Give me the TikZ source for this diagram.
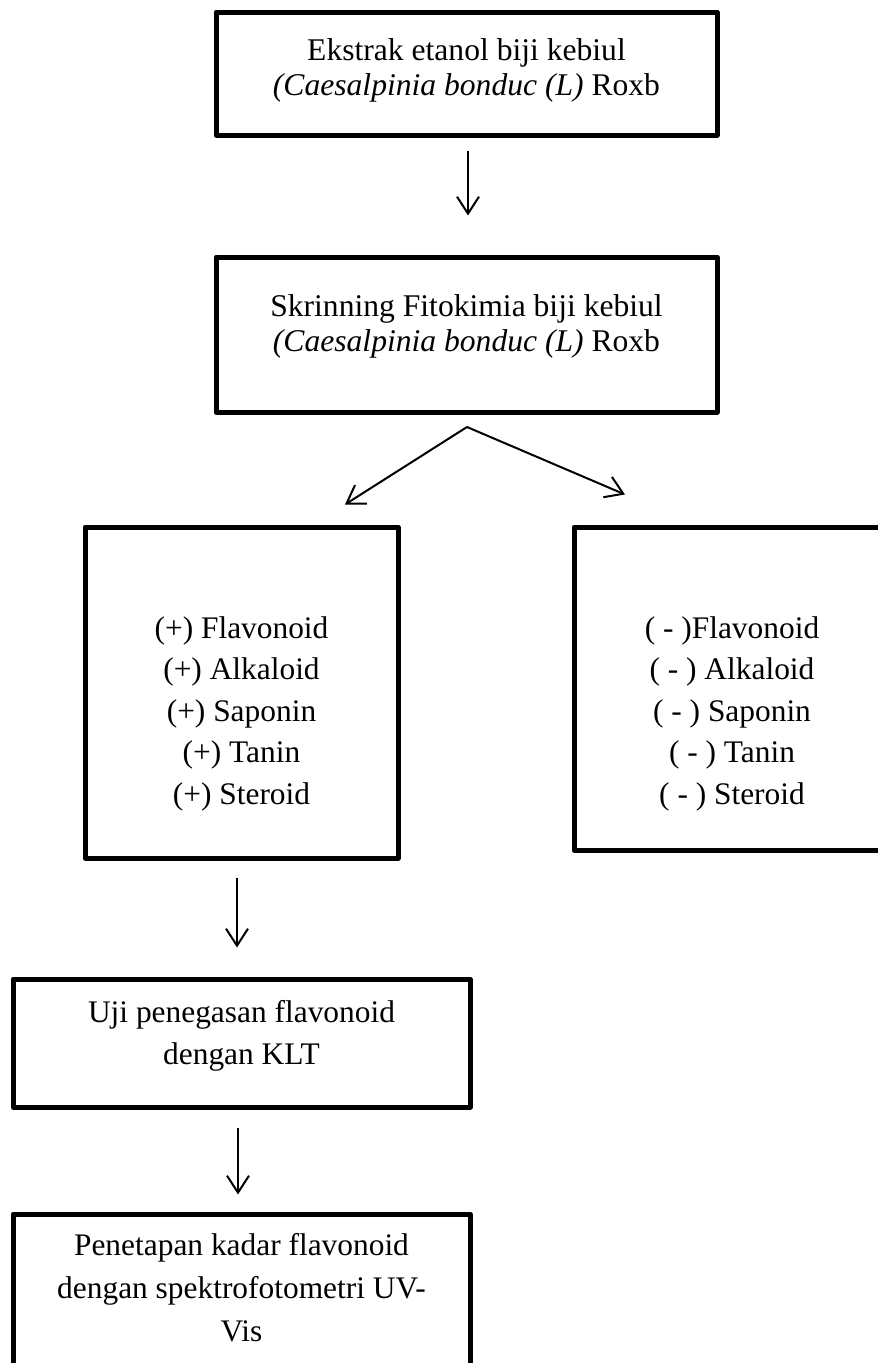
\documentclass[tikz,border=0pt]{standalone}
\usepackage{fontspec}
\setmainfont{Liberation Serif}
\usetikzlibrary{arrows.meta}
\begin{document}
\begin{tikzpicture}[x=1pt,y=-1pt,
  box/.style={draw,line width=5pt,line join=round,inner sep=0pt,anchor=center},
  txt/.style={inner sep=0pt,anchor=base},
  arr/.style={line width=2pt,-{Straight Barb[length=17pt,width=22pt,line width=2pt]}}]
\useasboundingbox (0,0) rectangle (878,1363);
\clip (0,0) rectangle (878,1363);
% boxes
\node[box,minimum width=501pt,minimum height=123pt] (b1) at (466.5,73.5) {};
\node[box,minimum width=501pt,minimum height=155pt] (b2) at (466.5,334.5) {};
\node[box,minimum width=313pt,minimum height=331pt] (b3) at (241.5,692.5) {};
\node[box,minimum width=316pt,minimum height=323pt] (b4) at (732,688.5) {};
\node[box,minimum width=457pt,minimum height=128pt] (b5) at (241.5,1043) {};
\node[box,minimum width=457pt,minimum height=190pt] (b6) at (241.5,1309) {};
% texts
\node[txt] (t1) at (466.5,60) {\fontsize{31.6}{35}\selectfont\begin{tabular}[t]{@{}c@{}}Ekstrak etanol biji kebiul\\ \textit{(Caesalpinia bonduc (L)} Roxb\end{tabular}};
\node[txt] (t2) at (466.5,316) {\fontsize{31.6}{35}\selectfont\begin{tabular}[t]{@{}c@{}}Skrinning Fitokimia biji kebiul\\ \textit{(Caesalpinia bonduc (L)} Roxb\end{tabular}};
\node[txt] (t3) at (241.5,638) {\fontsize{31.4}{41.5}\selectfont\begin{tabular}[t]{@{}c@{}}(+) Flavonoid\\ (+) Alkaloid\\ (+) Saponin\\ (+) Tanin\\ (+) Steroid\end{tabular}};
\node[txt] (t4) at (732,638) {\fontsize{31.4}{41.5}\selectfont\begin{tabular}[t]{@{}c@{}}( - )Flavonoid\\ ( - ) Alkaloid\\ ( - ) Saponin\\ ( - ) Tanin\\ ( - ) Steroid\end{tabular}};
\node[txt] (t5) at (241.5,1022) {\fontsize{31.4}{42}\selectfont\begin{tabular}[t]{@{}c@{}}Uji penegasan flavonoid\\ dengan KLT\end{tabular}};
\node[txt] (t6) at (241.5,1255) {\fontsize{31.4}{43}\selectfont\begin{tabular}[t]{@{}c@{}}Penetapan kadar flavonoid\\ dengan spektrofotometri UV-\\ Vis\end{tabular}};
% connectors
\draw[arr] ([xshift=1.5pt,yshift=-13pt]b1.south) -- ([xshift=1.5pt,yshift=39pt]b2.north);
\coordinate (split) at ([xshift=0.5pt,yshift=-12.5pt]b2.south);
\draw[arr,line join=round] (split) -- ([xshift=103.5pt,yshift=20pt]b3.north);
\draw[arr,line join=round] (split) -- ([xshift=-107pt,yshift=30pt]b4.north);
\draw[arr] ([xshift=-4.5pt,yshift=-17pt]b3.south) -- ([xshift=-4.5pt,yshift=29pt]b5.north);
\draw[arr] ([xshift=-3.5pt,yshift=-18pt]b5.south) -- ([xshift=-3.5pt,yshift=17pt]b6.north);
\end{tikzpicture}
\end{document}
